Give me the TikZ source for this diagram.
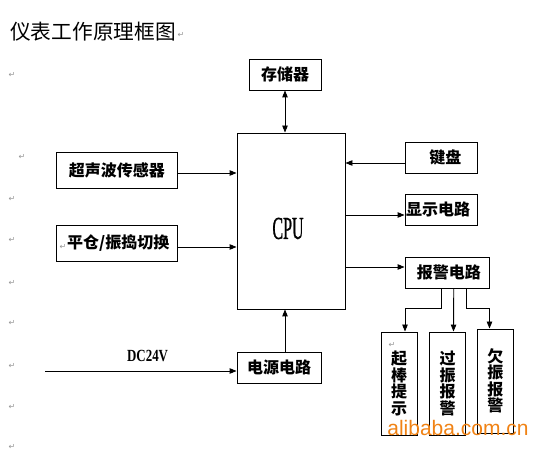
\documentclass[tikz,border=0pt]{standalone}
\usepackage{fontspec}
\usetikzlibrary{arrows.meta}
\newfontfamily\cjk{Noto Sans CJK SC}
\newfontfamily\serifl{Liberation Serif}
\newfontfamily\cpufont[FakeBold=1.2]{Liberation Serif}
\newfontfamily\sansl{Liberation Sans}
\newfontfamily\djv{DejaVu Sans}
\definecolor{wmorange}{RGB}{240,130,20}
\definecolor{markgray}{RGB}{150,150,150}
\tikzset{
  box/.style={draw, line width=0.9pt, inner sep=0pt, font=\cjk\bfseries\fontsize{16}{18}\selectfont},
  vbox/.style={box, align=center, font=\cjk\bfseries\fontsize{16}{16.5}\selectfont},
  conn/.style={line width=0.9pt, -{Triangle[length=7pt,width=5.5pt]}},
  dconn/.style={line width=0.9pt, {Triangle[length=7pt,width=5.5pt]}-{Triangle[length=7pt,width=5.5pt]}},
  pmark/.style={text=markgray, font=\djv\fontsize{8}{8}\selectfont, inner sep=0pt}
}
\begin{document}
\begin{tikzpicture}[x=1pt,y=-1pt]
\useasboundingbox (0,0) rectangle (549,454);
% title
\node[anchor=west, inner sep=0pt, font=\cjk\fontsize{20.7}{22}\selectfont] (title) at (10,32) {仪表工作原理框图};
\node[pmark] (pm0) at (181,35) {↵};
% paragraph marks
\node[pmark] (pm1) at (12,75) {↵};
\node[pmark] (pm2) at (22,157) {↵};
\node[pmark] (pm3) at (12,199) {↵};
\node[pmark] (pm4) at (12,240) {↵};
\node[pmark] (pm5) at (12,283) {↵};
\node[pmark] (pm6) at (12,323) {↵};
\node[pmark] (pm7) at (12,366) {↵};
\node[pmark] (pm8) at (12,407) {↵};
\node[pmark] (pm9) at (12,447) {↵};
% boxes
\node[box, minimum width=72pt, minimum height=31pt] (mem) at (285,74.5) {存储器};
\node[box, minimum width=108pt, minimum height=176pt] (cpu) at (291,221) {};
\node[inner sep=0pt, font=\cpufont\fontsize{32}{32}\selectfont] (cputxt) at (288,228.5) {\scalebox{0.5}[1]{CPU}};
\node[box, minimum width=120.5pt, minimum height=36pt] (us) at (116.75,170) {超声波传感器};
\node[box, minimum width=120.5pt, minimum height=36pt] (sw) at (116.75,243) {\hspace{3pt}平仓/振捣切换};
\node[pmark] (pm10) at (63,247) {↵};
\node[box, minimum width=72.5pt, minimum height=31pt] (kb) at (441.25,157.5) {\hspace{8pt}键盘};
\node[box, minimum width=72.5pt, minimum height=31pt, text width=72.5pt, align=left] (disp) at (441.25,209.5) {\hspace{1pt}显示电路};
\node[box, minimum width=84.5pt, minimum height=31pt] (alarm) at (447.25,272.5) {\raisebox{-3pt}{\hspace{3pt}报警电路}};
\node[box, minimum width=84pt, minimum height=31pt] (pwr) at (279,367.5) {\raisebox{-2pt}{电源电路}};
\node[vbox, minimum width=36pt, minimum height=103pt] (a1) at (399,383.5) {起\\棒\\提\\示};
\node[vbox, minimum width=36pt, minimum height=103pt] (a2) at (447.5,383.5) {过\\振\\报\\警};
\node[vbox, minimum width=35.5pt, minimum height=104pt] (a3) at (495.25,381) {欠\\振\\报\\警};
\node[pmark] (pm11) at (392,345) {↵};
% DC24V
\node[inner sep=0pt, font=\serifl\bfseries\fontsize{17}{17}\selectfont] (dc) at (147.6,356) {\scalebox{0.76}[1]{DC24V}};
\coordinate (in) at (45,371);
% connectors
\draw[dconn] (mem.south) -- (mem.south |- cpu.north);
\draw[conn] ([yshift=-3pt]us.east) -- ([yshift=-3pt]us.east -| cpu.west);
\draw[conn] ([yshift=-4pt]sw.east) -- ([yshift=-4pt]sw.east -| cpu.west);
\draw[conn] ([yshift=-5.5pt]kb.west) -- ([yshift=-5.5pt]kb.west -| cpu.east);
\draw[conn] ([yshift=-5.5pt]disp.west -| cpu.east) -- ([yshift=-5.5pt]disp.west);
\draw[conn] ([yshift=5.5pt]alarm.west -| cpu.east) -- ([yshift=5.5pt]alarm.west);
\draw[conn] ([xshift=6pt]pwr.north) -- ([xshift=6pt]pwr.north |- cpu.south);
\draw[conn] (in) -- (in -| pwr.west);
\coordinate (b1) at (441,308);
\coordinate (b3) at (466,308);
\draw[conn] (alarm.south -| b1) -- (b1) -| ([xshift=6pt]a1.north);
\draw[conn] ([xshift=6.5pt]alarm.south) -- ([xshift=6pt]a2.north);
\draw[conn] (alarm.south -| b3) -- (b3) -| ([xshift=-5.75pt]a3.north);
% watermark
\node[inner sep=0pt, text=wmorange, font=\sansl\fontsize{21}{21}\selectfont] (wm) at (458,428) {alibaba.com.cn};
\end{tikzpicture}
\end{document}
